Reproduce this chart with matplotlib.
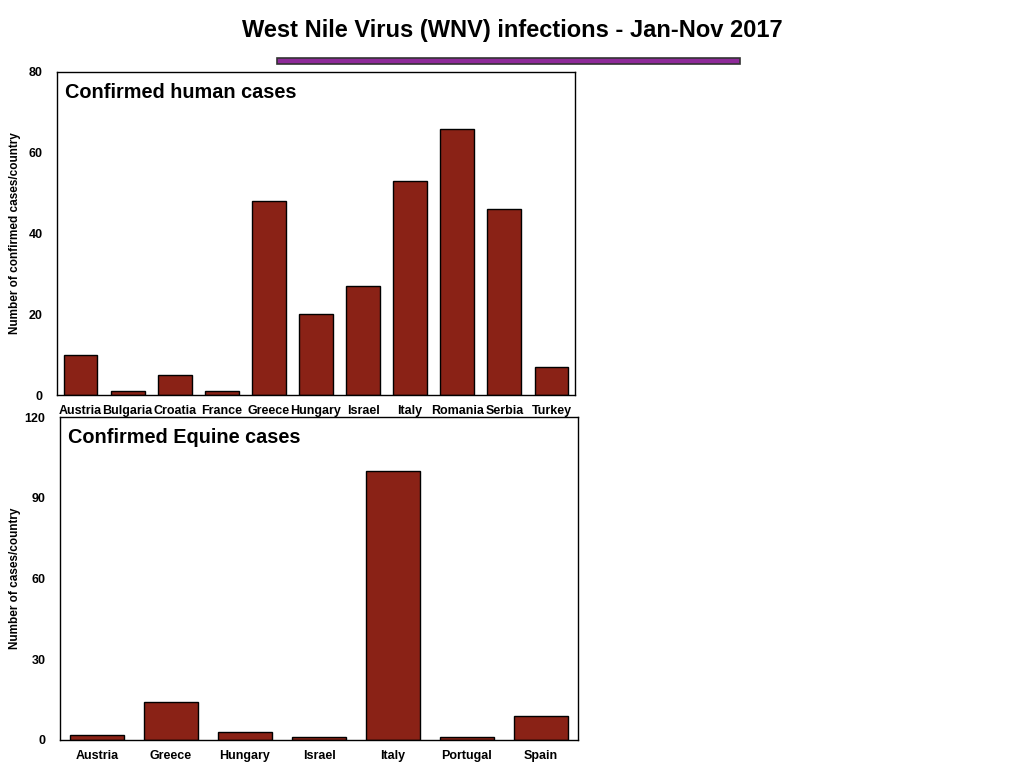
import matplotlib
matplotlib.use("Agg")
import matplotlib.pyplot as plt
from matplotlib.patches import Rectangle

plt.rcParams['font.family'] = ['Liberation Sans', 'DejaVu Sans']

human_countries = ["Austria", "Bulgaria", "Croatia", "France", "Greece", "Hungary",
                   "Israel", "Italy", "Romania", "Serbia", "Turkey"]
human_cases = [10, 1, 5, 1, 48, 20, 27, 53, 66, 46, 7]
human_yticks = [0, 20, 40, 60, 80]

equine_countries = ["Austria", "Greece", "Hungary", "Israel", "Italy", "Portugal", "Spain"]
equine_cases = [2, 14, 3, 1, 100, 1, 9]
equine_yticks = [0, 30, 60, 90, 120]

bar_color = "#8A2216"

fig = plt.figure(figsize=(10.24, 7.68), dpi=100)

fig.text(0.5, 1 - 30 / 768, "West Nile Virus (WNV) infections - Jan-Nov 2017",
         ha="center", va="center", fontsize=17, fontweight="bold")
fig.patches.append(Rectangle((277 / 1024, 1 - 64 / 768), 463 / 1024, 6 / 768,
                             transform=fig.transFigure, facecolor="#8E2A99",
                             edgecolor="#333333", linewidth=1.2))


def panel(rect, cats, vals, yticks, title, ylabel):
    ax = fig.add_axes(rect)
    x = range(len(cats))
    ax.bar(x, vals, width=0.72, color=bar_color, edgecolor="black", linewidth=1)
    ax.set_xlim(-0.5, len(cats) - 0.5)
    ax.set_ylim(yticks[0], yticks[-1])
    ax.set_yticks(yticks)
    ax.set_xticks(list(x))
    ax.set_xticklabels(cats)
    ax.tick_params(axis="both", length=0, labelsize=9)
    ax.tick_params(axis="y", pad=10.5)
    ax.tick_params(axis="x", pad=7)
    for lab in ax.get_xticklabels() + ax.get_yticklabels():
        lab.set_fontweight("bold")
    y_center = rect[1] + rect[3] / 2
    fig.text(15 / 1024, y_center, ylabel, rotation=90, ha="center", va="center",
             fontsize=8.5, fontweight="bold")
    ax.text(0.015, 0.965, title, transform=ax.transAxes, ha="left", va="top",
            fontsize=14.3, fontweight="bold")
    for s in ax.spines.values():
        s.set_linewidth(1)
    return ax


panel([57 / 1024, 1 - 395 / 768, 518 / 1024, 323 / 768], human_countries, human_cases,
      human_yticks, "Confirmed human cases", "Number of confirmed cases/country")
panel([60 / 1024, 1 - 740 / 768, 518 / 1024, 323 / 768], equine_countries, equine_cases,
      equine_yticks, "Confirmed Equine cases", "Number of cases/country")

fig.savefig("out.png", dpi=100)
